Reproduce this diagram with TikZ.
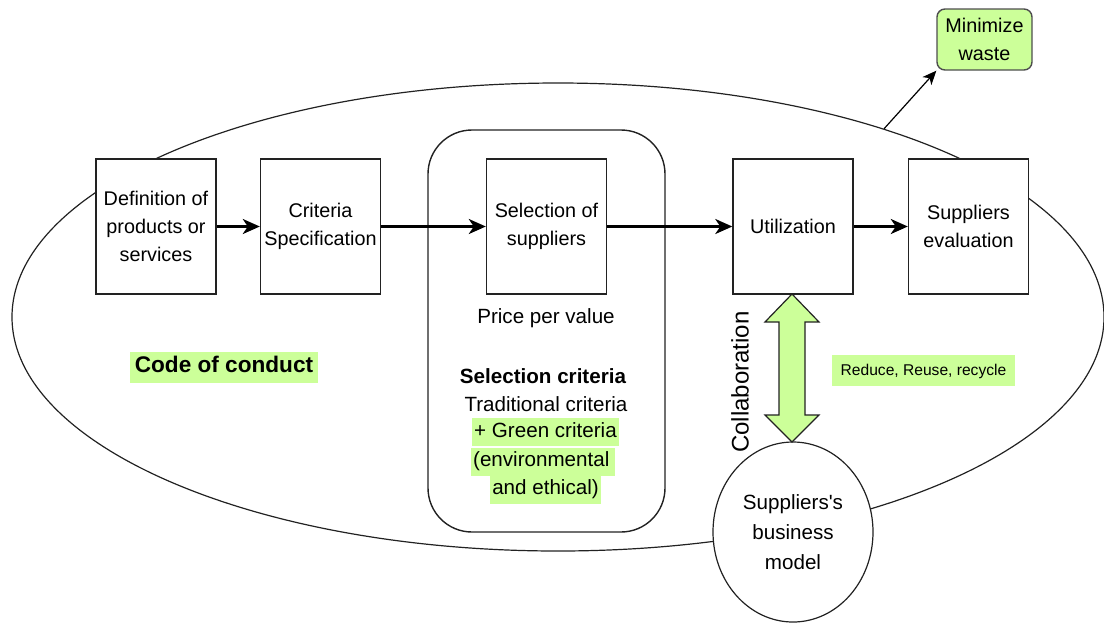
\documentclass[tikz,border=0pt]{standalone}
\usepackage{fontspec}
\setmainfont{Liberation Sans}
\usetikzlibrary{arrows.meta,shapes.geometric}
\definecolor{leaf}{HTML}{CCFF99}
\definecolor{edge}{HTML}{222222}
\tikzset{
  every node/.style={font=\fontsize{10.3}{14}\selectfont, text=black},
  stepbox/.style={draw=edge, line width=0.7pt, fill=white, minimum width=60pt,
    minimum height=67.5pt, align=center, inner sep=1pt, font=\fontsize{9.9}{14}\selectfont},
  flow/.style={line width=1.25pt, -{Stealth[length=8.5pt,width=7.5pt,inset=2.5pt]}},
  hl/.style={fill=leaf, inner xsep=1pt, inner ysep=0pt, minimum height=14pt,
    text height=7.6pt, text depth=2.4pt},
}
\begin{document}
\begin{tikzpicture}[x=0.5pt,y=-0.5pt]
\useasboundingbox (0,0) rectangle (1104,623);

% outer boundary of the purchasing process
\node[ellipse, draw=edge, line width=0.6pt, minimum width=546pt, minimum height=234pt,
  inner sep=0pt] (big) at (558,317) {};

% container around the supplier selection step
\node[draw=edge, line width=0.7pt, rounded corners=22pt, minimum width=118.5pt,
  minimum height=201pt] (frame) at (546.5,331) {};

% process steps
\node[stepbox] (def)  at (156,226.5)   {Definition of\\products or\\services};
\node[stepbox] (crit) at (320.5,226.5) {Criteria\\Specification};
\node[stepbox] (sel)  at (546.5,226.5) {Selection of\\suppliers};
\node[stepbox] (util) at (793,226.5)   {Utilization};
\node[stepbox] (eval) at (968.5,226.5) {Suppliers\\evaluation};

\draw[flow] (def)  -- (crit);
\draw[flow] (crit) -- (sel);
\draw[flow] (sel)  -- (util);
\draw[flow] (util) -- (eval);

% goal box
\node[draw=edge!80, line width=0.7pt, fill=leaf, rounded corners=4pt, minimum width=47.5pt,
  minimum height=30.5pt, align=center, inner sep=1pt, font=\fontsize{9.9}{14}\selectfont]
  (waste) at (984.5,39.5) {Minimize\\waste};
\draw[line width=0.6pt, -{Stealth[length=7pt,width=6pt,inset=2pt]}] (big.30) -- (waste.south west);

% supplier's business model
\node[ellipse, draw=edge, line width=0.6pt, fill=white, minimum width=80pt, minimum height=90pt,
  inner sep=0pt, align=center, font=\fontsize{10.3}{15}\selectfont] (biz) at (793,532)
  {Suppliers\textquotesingle s\\business\\model};

% collaboration double arrow
\draw[draw=edge, line width=0.6pt, fill=leaf, line join=miter]
  (792,294) -- (819,322) -- (805,322) -- (805,415) -- (819,415) -- (792,442)
  -- (765,415) -- (779,415) -- (779,322) -- (765,322) -- cycle;
\node[rotate=90, font=\fontsize{12}{14}\selectfont] (collab) at (740,382) {Collaboration};
\node[hl, minimum width=91.5pt, minimum height=15.5pt, font=\fontsize{7.8}{10}\selectfont]
  (rrr) at (923.5,370.5) {Reduce, Reuse, recycle};

% code of conduct
\node[hl, minimum width=94pt, minimum height=15.5pt, font=\bfseries\fontsize{11.3}{14}\selectfont]
  (code) at (224,367.5) {Code of conduct};

% selection criteria
\node (price) at (546,318) {Price per value};
\node[font=\bfseries\fontsize{10.3}{14}\selectfont] (sc) at (543,376) {Selection criteria};
\node (trad) at (546,404) {Traditional criteria};
\node[hl] (green) at (545.5,432) {+ Green criteria};
\node[hl] (env) at (543,461.5) {(environmental\,};
\node[hl] (eth) at (545.5,489.5) {and ethical)};
\end{tikzpicture}
\end{document}
